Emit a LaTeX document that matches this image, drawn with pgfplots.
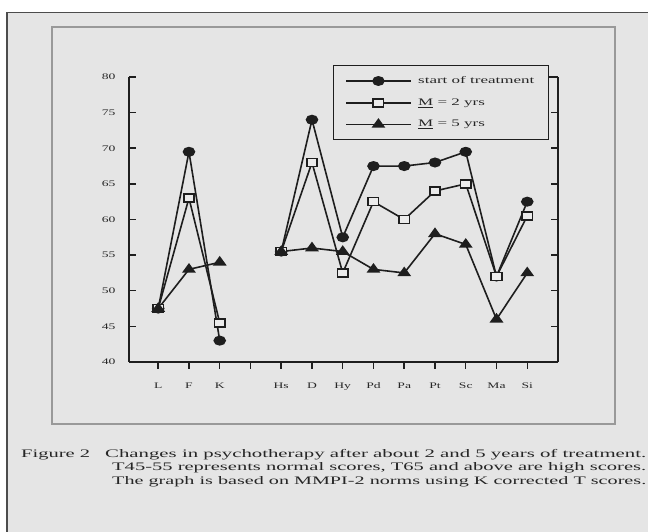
\documentclass[border=0pt]{standalone}
\usepackage{pgfplots}
\pgfplotsset{compat=1.18}
\usepackage{pgfplotstable}
\usepackage{fontspec}
\setmainfont{Liberation Serif}
\usepackage{graphicx}
\definecolor{bg}{HTML}{E5E5E5}
\definecolor{ink}{HTML}{1E1E1E}
\definecolor{txt}{HTML}{262626}
\newcommand{\sx}[1]{\scalebox{1.6}[1]{#1}}
\newcommand{\lx}[1]{\scalebox{1.7}[1]{#1}}

\pgfplotstableread{
pos start two five
0 47.5 47.5 47.5
1 69.5 63 53
2 43 45.5 54
3 nan nan nan
4 55.5 55.5 55.5
5 74 68 56
6 57.5 52.5 55.5
7 67.5 62.5 53
8 67.5 60 52.5
9 68 64 58
10 69.5 65 56.5
11 52 52 46
12 62.5 60.5 52.5
}\mmpi

\begin{document}
\begin{tikzpicture}[x=1pt,y=1pt]
\useasboundingbox (0,0) rectangle (648,532);
\fill[white] (0,0) rectangle (648,532);
\fill[bg] (7,0) rectangle (648,519.5);
\draw[black!70, line width=1.2pt] (7,0) -- (7,519.5) -- (648,519.5);
\draw[black!40, line width=1.6pt] (52,108) rectangle (615,505);

\begin{axis}[
  at={(129pt,170pt)}, anchor=south west,
  scale only axis, width=429pt, height=285pt,
  xmin=-0.95, xmax=13, ymin=40, ymax=80,
  axis x line*=bottom, axis y line*=box,
  axis line style={ink, line width=1.5pt},
  xtick={0,...,12},
  xticklabels={\sx{L},\sx{F},\sx{K},{},\sx{Hs},\sx{D},\sx{Hy},\sx{Pd},\sx{Pa},\sx{Pt},\sx{Sc},\sx{Ma},\sx{Si}},
  ytick={40,45,...,80},
  yticklabel={\sx{\pgfmathprintnumber{\tick}}},
  yticklabel pos=left,
  xtick align=outside, ytick align=inside,
  major tick length=7pt,
  ytick style={ink, line width=1.5pt, shorten >=-6pt},
  xtick style={ink, line width=1.5pt},
  ticklabel style={font=\fontsize{8.5}{10}\selectfont, text=txt},
  xticklabel style={yshift=-10pt},
  yticklabel style={xshift=-10pt},
  /pgf/number format/assume math mode=true,
  unbounded coords=jump,
  clip=false,
  every axis plot/.append style={ink, line width=1.6pt},
  legend image code/.code={
    \draw[#1, line width=1.5pt] (0pt,0pt) -- (65pt,0pt);
    \draw[#1, line width=1.5pt] plot coordinates {(32pt,0pt)};
  },
  legend cell align=left,
  legend style={at={(0.4755,1.042)}, anchor=north west,
    draw=ink, line width=1.4pt, fill=bg,
    inner xsep=12pt, inner ysep=9pt, row sep=9.5pt,
    nodes={inner sep=2pt},
    font=\fontsize{10}{12}\selectfont, text=txt,
    /tikz/every odd column/.append style={column sep=4pt}},
]
\addplot[mark=*, mark size=4.2pt, mark options={xscale=1.3, fill=ink}] table[x=pos, y=start] {\mmpi};
\addlegendentry{\lx{start of treatment}\hspace{20pt}}
\addplot[mark=square*, mark size=4pt, mark options={xscale=1.3, fill=white!92!black}] table[x=pos, y=two] {\mmpi};
\addlegendentry{\lx{\underline{M} = 2 yrs}}
\addplot[mark=triangle*, mark size=5pt, mark options={xscale=1.25, fill=ink}] table[x=pos, y=five] {\mmpi};
\addlegendentry{\lx{\underline{M} = 5 yrs}}
\end{axis}

\begin{scope}[every node/.style={anchor=base west, inner sep=0pt, text=txt, font=\fontsize{11.5}{13}\selectfont}]
\node at (21,74) {\resizebox{69pt}{\height}{Figure 2}};
\node at (105,74) {\resizebox{541pt}{\height}{Changes in psychotherapy after about 2 and 5 years of treatment.}};
\node at (112,61) {\resizebox{534pt}{\height}{T45-55 represents normal scores, T65 and above are high scores.}};
\node at (112,47) {\resizebox{534pt}{\height}{The graph is based on MMPI-2 norms using K corrected T scores.}};
\end{scope}
\end{tikzpicture}
\end{document}
